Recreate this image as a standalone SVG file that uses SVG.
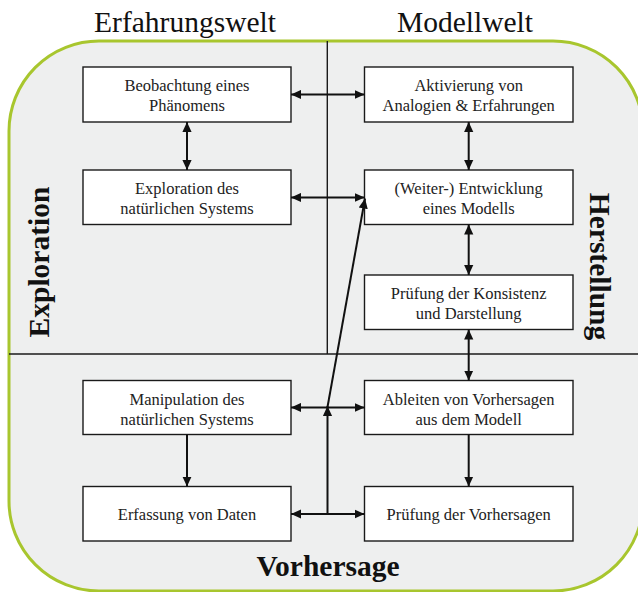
<svg xmlns="http://www.w3.org/2000/svg" width="638" height="592" viewBox="0 0 638 592">
<defs>
<style>
.bg{fill:#eeefef;stroke:#a8c62e;stroke-width:3}
.div{stroke:#1a1a1a;stroke-width:1.4;fill:none}
.box{fill:#fff;stroke:#1a1a1a;stroke-width:1.4}
text{font-family:'Liberation Serif','Times New Roman',Times,Tinos,'Noto Serif','DejaVu Serif',serif}
.t{font-size:16.5px;fill:#222;text-anchor:middle}
.title{font-size:29.5px;fill:#111;text-anchor:middle}
.side{font-size:29.5px;font-weight:bold;fill:#111;text-anchor:middle}
.c{stroke:#111;stroke-width:2;fill:none}
</style>
<marker id="ah" viewBox="0 0 10 10" refX="10" refY="5" markerWidth="10" markerHeight="10" markerUnits="userSpaceOnUse" orient="auto-start-reverse">
<path d="M0,0.4 L10,5 L0,9.6 Z" fill="#111"/>
</marker>
</defs>
<rect class="bg" x="9" y="41" width="634" height="550" rx="90" ry="90"/>
<g id="dividers">
<line class="div" x1="327.3" y1="41" x2="327.3" y2="354"/>
<line class="div" x1="9" y1="354" x2="638" y2="354"/>
</g>
<g id="titles">
<text class="title" x="185" y="32">Erfahrungswelt</text>
<text class="title" x="465" y="32">Modellwelt</text>
<text class="side" transform="translate(49,262) rotate(-90)">Exploration</text>
<text class="side" transform="translate(590,266.5) rotate(90)">Herstellung</text>
<text class="side" x="328" y="576">Vorhersage</text>
</g>
<g id="n1"><rect class="box" x="83" y="67" width="208" height="55"/><text class="t" x="187" y="91">Beobachtung eines</text><text class="t" x="187" y="111">Phänomens</text></g>
<g id="n2"><rect class="box" x="83" y="170" width="208" height="54.5"/><text class="t" x="187" y="194">Exploration des</text><text class="t" x="187" y="214">natürlichen Systems</text></g>
<g id="n3"><rect class="box" x="364.5" y="67" width="208.5" height="55"/><text class="t" x="468.7" y="91">Aktivierung von</text><text class="t" x="468.7" y="111">Analogien &amp; Erfahrungen</text></g>
<g id="n4"><rect class="box" x="364.5" y="170" width="208.5" height="54.5"/><text class="t" x="468.7" y="194">(Weiter-) Entwicklung</text><text class="t" x="468.7" y="214">eines Modells</text></g>
<g id="n5"><rect class="box" x="364.5" y="275" width="208.5" height="54.5"/><text class="t" x="468.7" y="299">Prüfung der Konsistenz</text><text class="t" x="468.7" y="319">und Darstellung</text></g>
<g id="n6"><rect class="box" x="83" y="380.5" width="208" height="54"/><text class="t" x="187" y="404.5">Manipulation des</text><text class="t" x="187" y="424.5">natürlichen Systems</text></g>
<g id="n7"><rect class="box" x="364.5" y="380.5" width="208.5" height="54"/><text class="t" x="468.7" y="404.5">Ableiten von Vorhersagen</text><text class="t" x="468.7" y="424.5">aus dem Modell</text></g>
<g id="n8"><rect class="box" x="83" y="486.5" width="208" height="54.5"/><text class="t" x="187" y="520">Erfassung von Daten</text></g>
<g id="n9"><rect class="box" x="364.5" y="486.5" width="208.5" height="54.5"/><text class="t" x="468.7" y="520">Prüfung der Vorhersagen</text></g>
<g id="connectors">
<line class="c" x1="291" y1="94.5" x2="364.5" y2="94.5" marker-start="url(#ah)" marker-end="url(#ah)"/>
<line class="c" x1="291" y1="197.5" x2="364.5" y2="197.5" marker-start="url(#ah)" marker-end="url(#ah)"/>
<line class="c" x1="187" y1="122" x2="187" y2="170" marker-start="url(#ah)" marker-end="url(#ah)"/>
<line class="c" x1="468.7" y1="122" x2="468.7" y2="170" marker-start="url(#ah)" marker-end="url(#ah)"/>
<line class="c" x1="468.7" y1="224.5" x2="468.7" y2="275" marker-start="url(#ah)" marker-end="url(#ah)"/>
<line class="c" x1="468.7" y1="329.5" x2="468.7" y2="380.5" marker-start="url(#ah)" marker-end="url(#ah)"/>
<line class="c" x1="291" y1="407.5" x2="364.5" y2="407.5" marker-start="url(#ah)" marker-end="url(#ah)"/>
<line class="c" x1="187" y1="434.5" x2="187" y2="486.5" marker-end="url(#ah)"/>
<line class="c" x1="468.7" y1="434.5" x2="468.7" y2="486.5" marker-end="url(#ah)"/>
<line class="c" x1="291" y1="514" x2="364.5" y2="514" marker-start="url(#ah)" marker-end="url(#ah)"/>
<line class="c" x1="327.5" y1="514" x2="327.5" y2="406" marker-end="url(#ah)"/>
<line class="c" x1="327.5" y1="407" x2="365" y2="198.5" marker-end="url(#ah)"/>
</g>
</svg>
